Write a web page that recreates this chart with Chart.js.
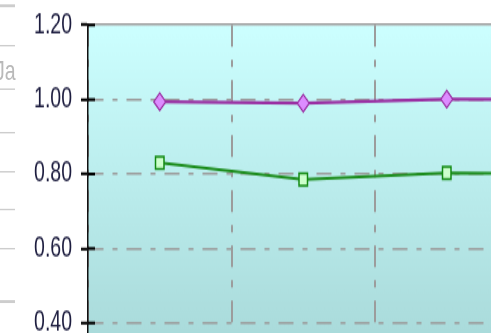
<!DOCTYPE html>
<html>
<head>
<meta charset="utf-8">
<script src="https://cdn.jsdelivr.net/npm/chart.js@4/dist/chart.umd.min.js"></script>
<style>
  html, body { margin: 0; padding: 0; background: #ffffff; }
  #wrap { position: absolute; left: 0; top: 0; width: 491px; height: 333px; overflow: hidden; background: #ffffff; }
  #stage { position: absolute; left: 0; top: 0; width: 680px; height: 346px; transform: scaleY(1.45); transform-origin: 0 0; }
  #chart { position: absolute; left: 0; top: 0; }
  .rule { position: absolute; left: 0; width: 15px; height: 1.4px; background: #cdcdcd; }
  .side { position: absolute; left: -5px; top: 38.5px; font: 19.5px "Liberation Sans", Arial, sans-serif; color: #b9b9b9; line-height: 1; }
</style>
</head>
<body>
<div id="wrap">
  <div id="stage">
    <div class="rule" style="top:3.4px"></div>
    <div class="rule" style="top:30.8px"></div>
    <div class="rule" style="top:60.9px"></div>
    <div class="rule" style="top:91px"></div>
    <div class="rule" style="top:117.7px"></div>
    <div class="rule" style="top:144.1px"></div>
    <div class="rule" style="top:170.5px"></div>
    <div class="rule" style="top:207.4px"></div>
    <div class="side">Ja</div>
    <canvas id="chart" width="680" height="346"></canvas>
  </div>
</div>
<script>
// Categories along the x axis and the two plotted series
const categories = ['Jan', 'Feb', 'Mar', 'Apr'];
const upperSeries = [0.994, 0.990, 1.001, 1.000];
const lowerSeries = [0.830, 0.785, 0.803, 0.800];

// Value axis range and tick step
const yMin = 0.0;
const yMax = 1.2;
const yStep = 0.2;

const gridDash = [15, 9, 5, 9];

// Plot background: light cyan fading to grey-teal
const plotBackground = {
  id: 'plotBackground',
  beforeDraw(chart) {
    const { ctx, chartArea: a } = chart;
    const g = ctx.createLinearGradient(0, a.top, 0, 230);
    g.addColorStop(0, '#ccffff');
    g.addColorStop(1, '#aadbdb');
    ctx.save();
    ctx.fillStyle = g;
    ctx.fillRect(a.left, a.top, a.right - a.left, a.bottom - a.top);
    ctx.restore();
  }
};

// Tick marks that cross the value axis into the plot
const crossTicks = {
  id: 'crossTicks',
  afterDraw(chart) {
    const { ctx, chartArea: a } = chart;
    const y = chart.scales.y;
    ctx.save();
    ctx.strokeStyle = '#000000';
    ctx.lineWidth = 2;
    y.ticks.forEach(t => {
      const py = y.getPixelForValue(t.value);
      ctx.beginPath();
      ctx.moveTo(a.left, py);
      ctx.lineTo(a.left + 7, py);
      ctx.stroke();
    });
    ctx.restore();
  }
};

new Chart(document.getElementById('chart'), {
  type: 'line',
  data: {
    labels: categories,
    datasets: [
      {
        label: 'Upper',
        data: upperSeries,
        borderColor: '#9a2fa3',
        borderWidth: 2.2,
        tension: 0,
        pointStyle: 'rectRot',
        pointRadius: 6,
        pointBackgroundColor: '#dc8cff',
        pointBorderColor: '#9a2fa3',
        pointBorderWidth: 1.2
      },
      {
        label: 'Lower',
        data: lowerSeries,
        borderColor: '#1b8c1b',
        borderWidth: 2,
        tension: 0,
        pointStyle: 'rect',
        pointRadius: 6,
        pointBackgroundColor: '#ccffcc',
        pointBorderColor: '#138a13',
        pointBorderWidth: 1.5
      }
    ]
  },
  options: {
    responsive: false,
    animation: false,
    devicePixelRatio: 1,
    layout: { padding: { top: 17.24, left: 0, right: 18, bottom: 20.5 } },
    plugins: { legend: { display: false }, tooltip: { enabled: false } },
    scales: {
      x: {
        offset: true,
        grid: { offset: true, color: '#9c9c9c', lineWidth: 2, drawTicks: false },
        border: { display: false, dash: gridDash },
        ticks: { display: false },
        afterFit(s) { s.height = 0; }
      },
      y: {
        min: yMin,
        max: yMax,
        ticks: {
          stepSize: yStep,
          padding: 9,
          color: '#1d1d3f',
          font: { family: '"Liberation Sans", Arial, sans-serif', size: 19.5, lineHeight: 0.8 },
          callback: v => Number(v).toFixed(2)
        },
        grid: {
          color: '#9c9c9c',
          lineWidth: 1.6,
          tickLength: 7,
          tickColor: '#000000',
          tickWidth: 2
        },
        border: {
          display: true,
          color: '#111111',
          width: 1.5,
          dash: c => (c.tick && Math.abs(c.tick.value - yMax) < 1e-6) ? [] : gridDash
        },
        afterFit(s) { s.width = 88; }
      }
    }
  },
  plugins: [plotBackground, crossTicks]
});
</script>
</body>
</html>
